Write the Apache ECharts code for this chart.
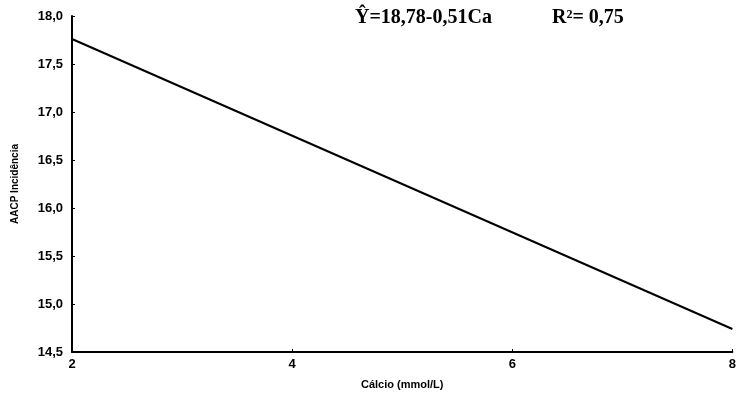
<!DOCTYPE html>
<html>
<head>
<meta charset="utf-8">
<script src="https://cdn.jsdelivr.net/npm/echarts@6/dist/echarts.min.js"></script>
<style>
  html, body { margin: 0; padding: 0; background: #fff; }
  #chart { width: 739px; height: 397px; }
</style>
</head>
<body>
<div id="chart"></div>
<script>
var calcio = [2, 8];
var incidencia = [17.76, 14.74];
var equationText = 'Ŷ=18,78-0,51Ca';
var r2Text = 'R²= 0,75';

var chart = echarts.init(document.getElementById('chart'));
var option = {
    animation: false,
    backgroundColor: '#fff',
    grid: {
        left: 72,
        right: 2,
        top: 16,
        bottom: 45
    },
    title: [{
        text: equationText,
        left: 350,
        top: 3,
        textStyle: {
            fontFamily: 'Liberation Serif',
            fontWeight: 'bold',
            fontSize: 20,
            color: '#000'
        }
    }, {
        text: r2Text,
        left: 547,
        top: 3,
        textStyle: {
            fontFamily: 'Liberation Serif',
            fontWeight: 'bold',
            fontSize: 20,
            color: '#000'
        }
    }],
    xAxis: {
        type: 'value',
        min: 2,
        max: 8,
        interval: 2,
        name: 'Cálcio (mmol/L)',
        nameLocation: 'middle',
        nameGap: 27,
        nameTextStyle: {
            fontFamily: 'Liberation Sans',
            fontWeight: 'bold',
            fontSize: 11,
            color: '#000'
        },
        axisLine: { lineStyle: { color: '#000', width: 2 } },
        axisTick: { inside: true, length: 3, lineStyle: { color: '#000' } },
        axisLabel: {
            color: '#000',
            fontFamily: 'Liberation Sans',
            fontWeight: 'bold',
            fontSize: 13,
            margin: 6
        },
        splitLine: { show: false }
    },
    yAxis: {
        type: 'value',
        min: 14.5,
        max: 18,
        interval: 0.5,
        name: 'AACP Incidência',
        nameLocation: 'middle',
        nameGap: 52,
        nameTextStyle: {
            fontFamily: 'Liberation Sans',
            fontWeight: 'bold',
            fontSize: 10,
            color: '#000'
        },
        axisLine: { show: true, lineStyle: { color: '#000', width: 2 } },
        axisTick: { show: true, inside: true, length: 3, lineStyle: { color: '#000' } },
        axisLabel: {
            color: '#000',
            fontFamily: 'Liberation Sans',
            fontWeight: 'bold',
            fontSize: 13,
            margin: 9,
            formatter: function (v) {
                return v.toFixed(1).replace('.', ',');
            }
        },
        splitLine: { show: false }
    },
    series: [{
        type: 'line',
        data: calcio.map(function (c, i) { return [c, incidencia[i]]; }),
        symbol: 'none',
        lineStyle: { color: '#000', width: 2 }
    }]
};
chart.setOption(option);
</script>
</body>
</html>
